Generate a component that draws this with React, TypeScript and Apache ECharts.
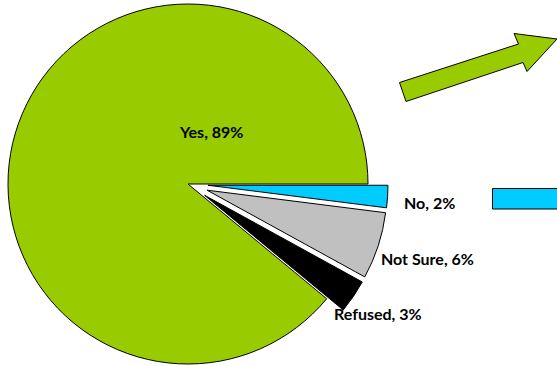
import React, { useEffect, useRef } from "react";
import * as echarts from "echarts";

const categories = ["No", "Not Sure", "Refused", "Yes"];
const values = [2, 6, 3, 89];
const colors = ["#00CCFF", "#C0C0C0", "#000000", "#99CC00"];
const exploded = [true, true, true, false];
// label anchor points (left, middle) per slice
const labelPos = [
  [404, 202],
  [381, 258],
  [334, 313],
  [180, 131],
];

export default function App() {
  const ref = useRef<HTMLDivElement>(null);
  useEffect(() => {
    if (!ref.current) return;
    const chart = echarts.init(ref.current, undefined, { renderer: "svg" });
    const font = "Lato";
    const labels = categories.map((c, i) => ({
      type: "text",
      x: labelPos[i][0],
      y: labelPos[i][1],
      z: 100,
      style: {
        text: `${c}, ${values[i]}%`,
        fill: "#000000",
        fontFamily: font,
        fontWeight: "bold",
        fontSize: 16,
        textAlign: "left",
        textVerticalAlign: "middle",
      },
    }));
    chart.setOption({
      animation: false,
      backgroundColor: "#ffffff",
      graphic: [
        {
          type: "polygon",
          shape: {
            points: [
              [406, 101.5],
              [399.5, 82.5],
              [518.5, 44],
              [514, 33.5],
              [557, 39],
              [527, 71.5],
              [523, 62.5],
            ],
          },
          style: { fill: "#99CC00", stroke: "#000000", lineWidth: 1 },
        },
        {
          type: "rect",
          shape: { x: 492.5, y: 188.5, width: 70, height: 20.5 },
          style: { fill: "#00CCFF", stroke: "#000000", lineWidth: 1 },
        },
        ...labels,
      ],
      series: [
        {
          type: "pie",
          center: [188, 184],
          radius: 180,
          startAngle: 0,
          clockwise: true,
          selectedMode: "multiple",
          selectedOffset: 20,
          emphasis: { disabled: true },
          itemStyle: { borderColor: "#000000", borderWidth: 1 },
          labelLine: { show: false },
          label: { show: false },
          data: categories.map((c, i) => ({
            name: c,
            value: values[i],
            selected: exploded[i],
            itemStyle: { color: colors[i] },
            select: { itemStyle: { color: colors[i], borderColor: "#000000", borderWidth: 1 } },
          })),
        },
      ],
    });
    return () => chart.dispose();
  }, []);
  return (
    <div
      ref={ref}
      style={{ position: "fixed", left: 0, top: 0, width: 557, height: 366 }}
    />
  );
}
